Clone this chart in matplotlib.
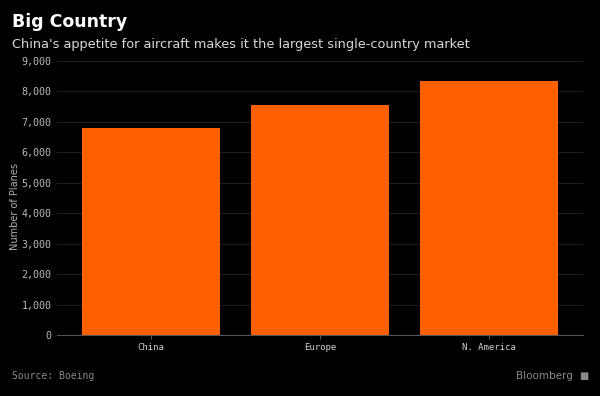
import numpy as np
import matplotlib.pyplot as plt

regions = ["China", "Europe", "N. America"]
planes = [6800, 7570, 8330]
y_ticks = [0, 1000, 2000, 3000, 4000, 5000, 6000, 7000, 8000, 9000]

bg = "#000000"
bar_color = "#ff6000"

fig = plt.figure(figsize=(6, 3.96), dpi=100, facecolor=bg)
ax = fig.add_axes([0.095, 0.154, 0.877, 0.692], facecolor=bg)

x = np.arange(len(regions))
ax.bar(x, planes, width=0.817, color=bar_color, zorder=3)

ax.set_xlim(-0.556, 2.556)
ax.set_ylim(0, 9000)
ax.set_yticks(y_ticks)
ax.set_yticklabels([f"{v:,}" for v in y_ticks], family="DejaVu Sans Mono",
                   fontsize=7.2, color="#b8b8b8")
ax.set_xticks(x)
ax.set_xticklabels(regions, family="DejaVu Sans Mono", fontsize=6.5, color="#d0d0d0")

ax.grid(axis="y", color="#1e1e1e", linewidth=0.8, zorder=0)
for s in ["top", "right", "left"]:
    ax.spines[s].set_visible(False)
ax.spines["bottom"].set_color("#555555")
ax.spines["bottom"].set_zorder(4)
ax.tick_params(axis="y", length=0, pad=4)
ax.tick_params(axis="x", length=3, color="#555555", pad=3)

ax.set_ylabel("Number of Planes", fontsize=7, color="#b0b0b0")
ax.yaxis.set_label_coords(-0.07, 0.47)

fig.text(0.02, 0.945, "Big Country", fontsize=12.5, fontweight="bold", color="white",
         va="center")
fig.text(0.02, 0.888, "China's appetite for aircraft makes it the largest single-country market",
         fontsize=9.3, color="#d8d8d8", va="center")
fig.text(0.02, 0.05, "Source: Boeing", family="DejaVu Sans Mono", fontsize=7,
         color="#8a8a8a", va="center")
fig.text(0.955, 0.05, "Bloomberg", fontsize=7.5, color="#8a8a8a", va="center", ha="right")
fig.text(0.965, 0.05, "\u25a0", fontsize=7, color="#8a8a8a", va="center", ha="left")

fig.savefig("out.png", dpi=100, facecolor=bg)
